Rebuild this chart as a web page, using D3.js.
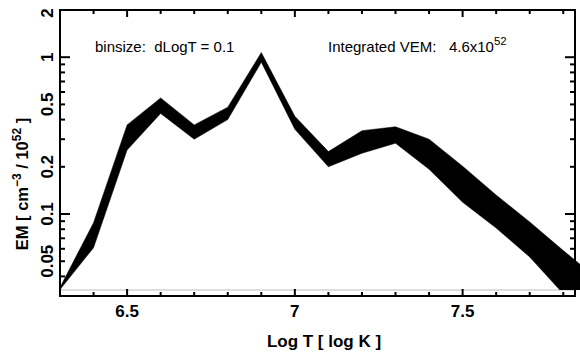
<!DOCTYPE html>
<html><head><meta charset="utf-8">
<script src="https://cdn.jsdelivr.net/npm/d3@7"></script>
<style>
html,body{margin:0;padding:0;background:#fff;}
svg{display:block;}
text{font-family:"Liberation Sans",Arial,Helvetica,sans-serif;fill:#000;}
</style></head>
<body>
<svg id="chart" width="580" height="353"></svg>
<script>
// ---- data ----
const logT  = [6.3, 6.4, 6.5, 6.6, 6.7, 6.8, 6.9, 7.0, 7.1, 7.2, 7.3, 7.4, 7.5, 7.6, 7.7, 7.8, 7.9];
const emUpper = [0.034, 0.088, 0.37, 0.55, 0.37, 0.48, 1.07, 0.42, 0.25, 0.34, 0.36, 0.30, 0.202, 0.132, 0.089, 0.0585, 0.039];
const emLower = [0.033, 0.061, 0.256, 0.438, 0.30, 0.40, 0.93, 0.347, 0.20, 0.244, 0.283, 0.193, 0.119, 0.0814, 0.0532, 0.031, 0.02];
const xTickLabels = [6.5, 7, 7.5];
const xMinorTicks = [6.4, 6.5, 6.6, 6.7, 6.8, 6.9, 7.0, 7.1, 7.2, 7.3, 7.4, 7.5, 7.6, 7.7, 7.8];
const yTickLabels = [2, 1, 0.5, 0.2, 0.1, 0.05];
const yMajorTicks = [1, 0.1];
const yMinorTicks = [0.9, 0.8, 0.7, 0.6, 0.5, 0.4, 0.3, 0.2, 0.09, 0.08, 0.07, 0.06, 0.05, 0.04];

const svg = d3.select("#chart");
const L = 60, R = 575, T = 10, B = 296;
const x = d3.scaleLinear().domain([6.3, 7.835]).range([L, R]);
const y = d3.scaleLog().domain([0.03, 2]).range([B, T]);
const clipBottom = B - 6;

svg.append("clipPath").attr("id", "clip")
  .append("rect").attr("x", L).attr("y", T).attr("width", 580 - L).attr("height", clipBottom - T);

// light grey baseline
svg.append("line").attr("x1", L).attr("x2", R).attr("y1", clipBottom).attr("y2", clipBottom)
  .attr("stroke", "#bbb").attr("stroke-width", 1);

const pts = logT.map((t, i) => ({t, u: emUpper[i], l: emLower[i]}));
const area = d3.area().x(d => x(d.t)).y0(d => y(d.l)).y1(d => y(d.u));
svg.append("path").attr("clip-path", "url(#clip)").datum(pts)
  .attr("d", area).attr("fill", "#000").attr("stroke", "#000").attr("stroke-width", 0.5);

// axes box
const ax = svg.append("g").attr("stroke", "#000").attr("fill", "none");
ax.append("rect").attr("x", L).attr("y", T).attr("width", R - L).attr("height", B - T)
  .attr("stroke-width", 2);

// x ticks (bottom & top)
xMinorTicks.forEach(v => {
  const major = xTickLabels.some(m => Math.abs(m - v) < 1e-9);
  const len = major ? 7 : 4;
  ax.append("line").attr("x1", x(v)).attr("x2", x(v)).attr("y1", B).attr("y2", B - len).attr("stroke-width", 2);
  ax.append("line").attr("x1", x(v)).attr("x2", x(v)).attr("y1", T).attr("y2", T + len).attr("stroke-width", 2);
});
// y ticks (left & right)
yMajorTicks.concat(yMinorTicks).forEach(v => {
  const len = yMajorTicks.includes(v) ? 10 : 5;
  ax.append("line").attr("x1", L).attr("x2", L + len).attr("y1", y(v)).attr("y2", y(v)).attr("stroke-width", 2);
  ax.append("line").attr("x1", R).attr("x2", R - len).attr("y1", y(v)).attr("y2", y(v)).attr("stroke-width", 2);
});

// tick labels
svg.selectAll(".xl").data(xTickLabels).enter().append("text")
  .attr("x", d => x(d)).attr("y", 317).attr("text-anchor", "middle")
  .attr("font-size", 17).attr("font-weight", "bold").text(d => d);
svg.selectAll(".yl").data(yTickLabels).enter().append("text")
  .attr("transform", d => `translate(53,${Math.max(y(d), 13)}) rotate(-90)`)
  .attr("text-anchor", "middle").attr("font-size", 17).attr("font-weight", "bold").text(d => d);

// axis titles
svg.append("text").attr("x", 324).attr("y", 347).attr("text-anchor", "middle")
  .attr("font-size", 17).attr("font-weight", "bold").text("Log T [ log K ]");
const yt = svg.append("text").attr("transform", "translate(28,184) rotate(-90)")
  .attr("text-anchor", "middle").attr("font-size", 16.5).attr("font-weight", "bold");
yt.append("tspan").text("EM [ cm");
yt.append("tspan").attr("dy", -7).attr("font-size", 12).text("−3");
yt.append("tspan").attr("dy", 7).text(" / 10");
yt.append("tspan").attr("dy", -7).attr("font-size", 12).text("52");
yt.append("tspan").attr("dy", 7).text(" ]");

// annotations
svg.append("text").attr("x", 95).attr("y", 52).attr("font-size", 15)
  .style("white-space", "pre").text("binsize:  dLogT = 0.1");
const ann = svg.append("text").attr("x", 328).attr("y", 52).attr("font-size", 15)
  .style("white-space", "pre");
ann.append("tspan").text("Integrated VEM:   4.6x10");
ann.append("tspan").attr("dy", -7).attr("font-size", 11.5).text("52");
</script>
</body></html>
